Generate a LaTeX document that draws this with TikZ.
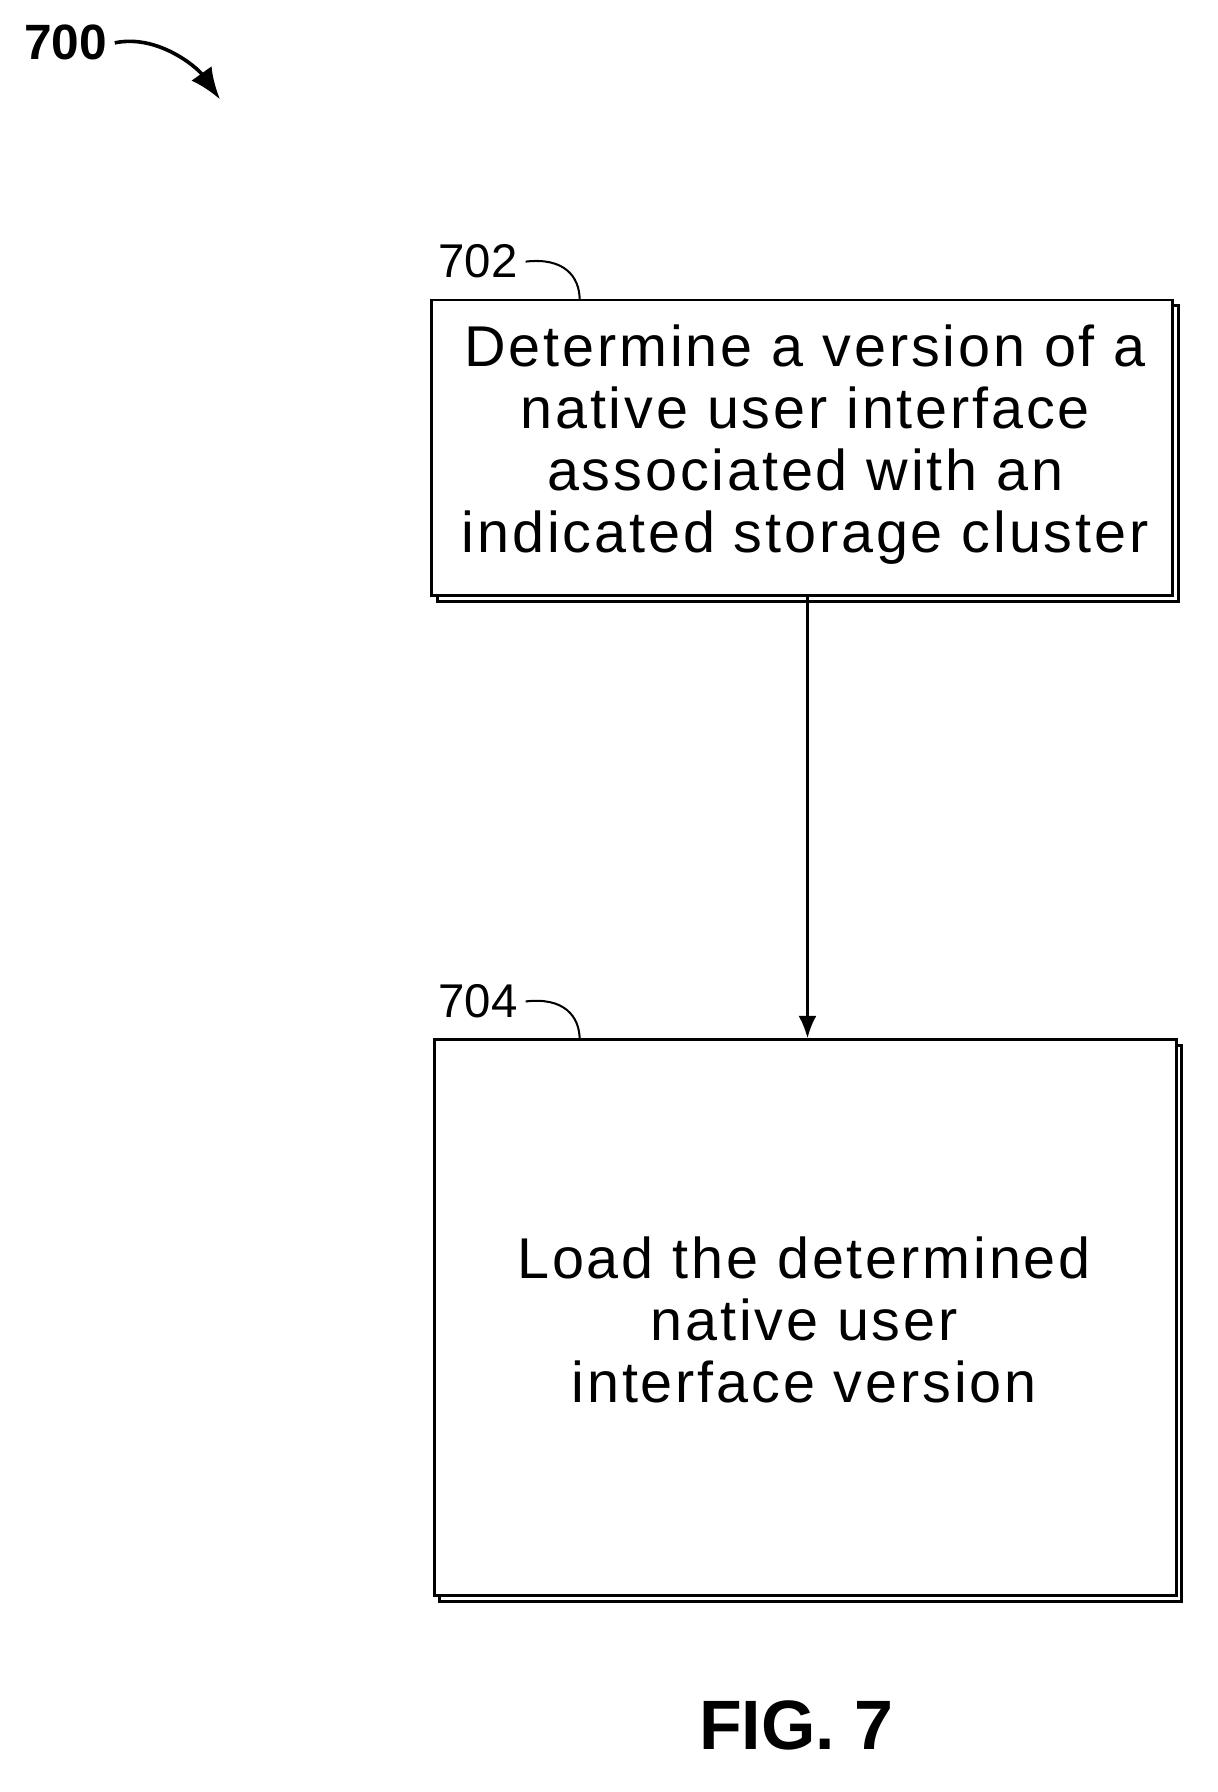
\documentclass[tikz,border=0pt]{standalone}
\usepackage{fontspec}
\setmainfont{Liberation Sans}
\newfontfamily\spaced[LetterSpace=5]{Liberation Sans}
\usetikzlibrary{arrows.meta}
\begin{document}
\begin{tikzpicture}[x=0.5pt,y=-0.5pt,
  box/.style={draw,line width=1.3pt,fill=white,inner sep=0pt},
  shadow/.style={draw,line width=1.3pt},
  txt/.style={font=\spaced\fontsize{25.5}{27.5}\selectfont,align=center},
  lab/.style={font=\fontsize{21}{24}\selectfont},
  lead/.style={line width=0.9pt}]
\useasboundingbox (0,0) rectangle (1080,1589);
% box 702
\draw[shadow] (388,271) rectangle (1045,533);
\node[box,minimum width=328.5pt,minimum height=131pt] (b1) at (711.5,397) {};
\node[txt] (t1) at (714,394) {Determine a version of a\\native user interface\\associated with an\\indicated storage cluster};
% box 704
\draw[shadow] (390,927) rectangle (1048,1420);
\node[box,minimum width=329pt,minimum height=246.5pt] (b2) at (714,1168.5) {};
\node[txt] (t2) at (713,1170) {Load the determined\\native user\\interface version};
\draw[line width=1.3pt,-{Latex[length=10pt,width=8pt]}] (b1.south -| 716,0) -- (b2.north -| 716,0);
% labels
\node[lab] (l702) at (424,232) {702};
\node[lab] (l704) at (424,888) {704};
\coordinate (c1) at (514,266);
\coordinate (c2) at (514,922);
\draw[lead] (l702.east) .. controls (500,228) and (514,245) .. (c1);
\draw[lead] (l704.east) .. controls (500,884) and (514,901) .. (c2);
\node[font=\bfseries\fontsize{22}{24}\selectfont] (n700) at (58,38) {700};
\coordinate (a700) at (195,88);
\draw[line width=1.6pt,-{Latex[length=14pt,width=11pt]}] (n700.east) .. controls (140,30) and (175,60) .. (a700);
\node[font=\bfseries\fontsize{31}{34}\selectfont] (fig) at (706,1530) {FIG. 7};
\end{tikzpicture}
\end{document}
